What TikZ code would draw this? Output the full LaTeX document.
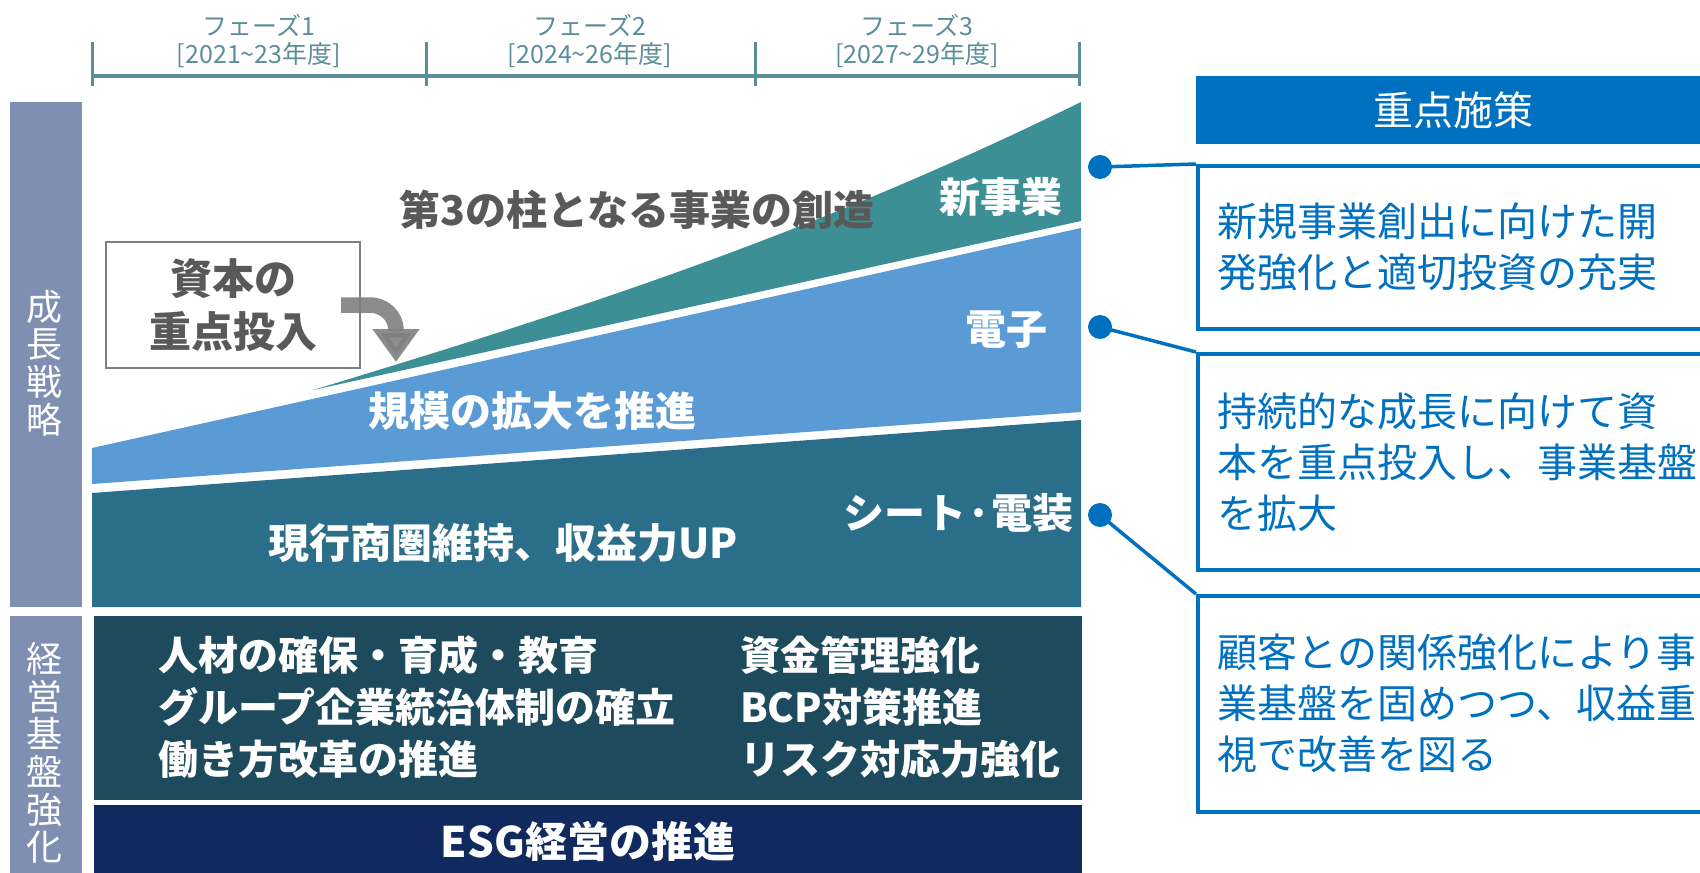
\documentclass[tikz,border=0pt]{standalone}
\usepackage{fontspec}
\setmainfont{Noto Sans CJK JP}
\usetikzlibrary{positioning, arrows.meta}

\definecolor{barGrey}{HTML}{7F8FB1}
\definecolor{phaseLine}{HTML}{5B8E98}
\definecolor{newTeal}{HTML}{3D8F96}
\definecolor{elecBlue}{HTML}{5B9BD5}
\definecolor{seatTeal}{HTML}{2A6E89}
\definecolor{baseDark}{HTML}{1E4A5D}
\definecolor{esgNavy}{HTML}{10295F}
\definecolor{keyBlue}{HTML}{0070C0}
\definecolor{txtGrey}{HTML}{595959}
\definecolor{arrGrey}{HTML}{7F7F7F}

\begin{document}
\begin{tikzpicture}[x=0.5pt, y=-0.5pt,
    phase label/.style={align=center, text=phaseLine, font=\fontsize{12.5pt}{14.2pt}\selectfont},
    side title/.style={align=center, text=white, font=\fontsize{18pt}{18.85pt}\selectfont},
    area label/.style={text=white, font=\fontsize{20.5pt}{24pt}\selectfont\bfseries},
    base text/.style={text=white, align=left, font=\fontsize{20pt}{26pt}\selectfont\bfseries},
    policy dot/.style={circle, fill=keyBlue, minimum size=12pt, inner sep=0pt},
    policy box/.style={draw=keyBlue, line width=1.75pt, anchor=north west, align=left, text width=237pt, inner xsep=10pt, text=keyBlue, font=\fontsize{20pt}{25.5pt}\selectfont},
    policy line/.style={draw=keyBlue, line width=1.75pt}]

    \useasboundingbox (0,0) rectangle (1700,872);
    \clip (0,0) rectangle (1700,872);

    % Phase timeline
    \foreach \x [count=\i] in {92,426,755,1079} {
        \coordinate (T-\i) at (\x,76);
        \draw[phaseLine, line width=1.5pt] (\x,42) -- (\x,86);
    }
    \draw[phaseLine, line width=2pt] (T-1) -- (T-4);
    \node[phase label] (P-1) at (259,41) {フェーズ1\\{[}2021\textasciitilde23年度{]}};
    \node[phase label] (P-2) at (590,41) {フェーズ2\\{[}2024\textasciitilde26年度{]}};
    \node[phase label] (P-3) at (917,41) {フェーズ3\\{[}2027\textasciitilde29年度{]}};

    % Side bars
    \fill[barGrey] (10,102) rectangle (82,607);
    \fill[barGrey] (10,616) rectangle (82,880);
    \node[side title] (growth) at (44,363) {成\\長\\戦\\略};
    \node[side title] (base) at (44,753) {経\\営\\基\\盤\\強\\化};

    % Business areas
    \fill[newTeal] (313,390) .. controls (560,315) and (800,240) .. (1081,102) -- (1081,221) -- cycle;
    \fill[elecBlue] (92,448) -- (1081,228) -- (1081,412) -- (92,484) -- cycle;
    \fill[seatTeal] (92,493) -- (1081,420) -- (1081,607) -- (92,607) -- cycle;

    \node[area label, text=txtGrey] (pillar) at (637,210) {第3の柱となる事業の創造};
    \node[area label] (newbiz) at (1001,197) {新事業};
    \node[area label] (elec) at (1006,330) {電子};
    \node[area label] (seat) at (958,513) {シート·電装};
    \node[area label] (scale) at (532,411) {規模の拡大を推進};
    \node[area label] (keep) at (503,543) {現行商圏維持、収益力UP};

    % Capital investment
    \node[draw=arrGrey, line width=0.75pt, minimum width=127pt, minimum height=63pt, align=center,
          text=txtGrey, font=\fontsize{21pt}{26.5pt}\selectfont\bfseries] (invest) at (233,305) {資本の\\重点投入};
    \draw[arrGrey, opacity=0.9, line width=7.75pt, -{Triangle[width=22.5pt, length=16.5pt]}]
        (341,305) -- (370,305) .. controls (384,305) and (396,316) .. (396,330) -- (396,362);

    % Management base
    \fill[baseDark] (94,616) rectangle (1082,800);
    \fill[esgNavy] (94,805) rectangle (1082,880);
    \node[base text, anchor=west] (mgmtL) at (151,707) {人材の確保・育成・教育\\グループ企業統治体制の確立\\働き方改革の推進};
    \node[base text, anchor=west] (mgmtR) at (733,707) {資金管理強化\\BCP対策推進\\リスク対応力強化};
    \node[base text, font=\fontsize{21pt}{26pt}\selectfont\bfseries] (esg) at (588,841) {ESG経営の推進};

    % Key measures
    \node[fill=keyBlue, minimum width=257pt, minimum height=33.5pt, text=white,
          font=\fontsize{20pt}{24pt}\selectfont] (head) at (1453,110) {重点施策};
    \node[policy box, minimum height=81.5pt] (B-1) at (1196,164) {新規事業創出に向けた開\\発強化と適切投資の充実};
    \node[policy box, minimum height=108pt] (B-2) at (1196,352) {持続的な成長に向けて資\\本を重点投入し、事業基盤\\を拡大};
    \node[policy box, minimum height=108pt] (B-3) at (1196,594) {顧客との関係強化により事\\業基盤を固めつつ、収益重\\視で改善を図る};

    \node[policy dot] (D-1) at (1100,167) {};
    \node[policy dot] (D-2) at (1100,327) {};
    \node[policy dot] (D-3) at (1100,515) {};
    \foreach \i in {1,2,3}
        \draw[policy line] (D-\i.center) -- (B-\i.north west);

\end{tikzpicture}
\end{document}
